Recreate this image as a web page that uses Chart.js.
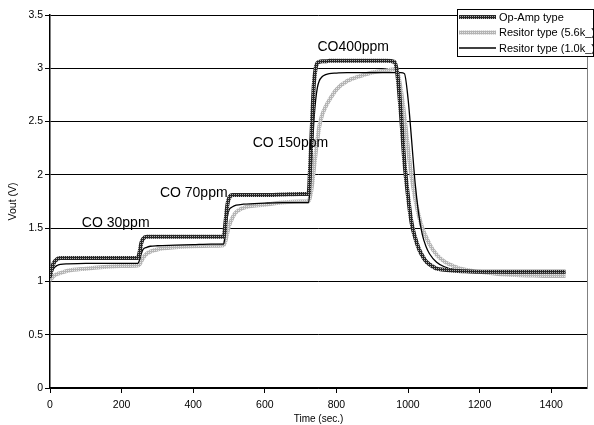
<!DOCTYPE html>
<html>
<head>
<meta charset="utf-8">
<script src="https://cdn.jsdelivr.net/npm/chart.js@4/dist/chart.umd.min.js"></script>
<style>
  html, body { margin: 0; padding: 0; background: #fff; }
  #vout { display: block; }
</style>
</head>
<body>
<canvas id="vout" width="594" height="425"></canvas>
<script>
// sample times (sec.)
const times = [0,5,10,20,30,50,100,150,200,245,
  250,255,260,270,280,300,350,400,450,485,
  490,495,500,510,520,540,600,650,700,722,
  727,732,737,742,747,752,760,770,780,800,
  830,860,900,940,962,970,980,990,1000,1010,
  1020,1030,1040,1050,1060,1080,1100,1130,1160,1200,
  1250,1300,1350,1400,1440];

// Vout (V)
const opAmp = [1.04,1.12,1.17,1.21,1.22,1.22,1.22,1.22,1.22,1.22,
  1.27,1.36,1.40,1.42,1.42,1.42,1.42,1.42,1.42,1.42,
  1.55,1.71,1.78,1.81,1.81,1.81,1.81,1.815,1.82,1.82,
  2.10,2.50,2.85,3.00,3.05,3.06,3.065,3.065,3.07,3.07,
  3.07,3.07,3.07,3.07,3.06,2.95,2.58,2.12,1.80,1.55,
  1.41,1.31,1.24,1.19,1.16,1.12,1.11,1.10,1.095,1.09,
  1.09,1.09,1.09,1.09,1.09];

const res56k = [1.01,1.03,1.05,1.07,1.08,1.10,1.12,1.135,1.145,1.15,
  1.16,1.19,1.22,1.26,1.28,1.30,1.32,1.33,1.335,1.34,
  1.38,1.45,1.52,1.60,1.65,1.69,1.72,1.74,1.75,1.75,
  1.80,1.90,2.05,2.20,2.33,2.45,2.56,2.64,2.70,2.80,
  2.88,2.92,2.96,2.98,2.99,2.97,2.80,2.55,2.25,1.98,
  1.78,1.62,1.50,1.42,1.35,1.25,1.19,1.14,1.11,1.09,
  1.07,1.06,1.055,1.05,1.05];

const res10k = [1.03,1.08,1.12,1.15,1.16,1.165,1.17,1.17,1.17,1.17,
  1.20,1.26,1.30,1.32,1.33,1.335,1.34,1.345,1.35,1.35,
  1.45,1.60,1.67,1.70,1.715,1.725,1.735,1.74,1.74,1.74,
  1.90,2.20,2.50,2.70,2.82,2.88,2.92,2.94,2.95,2.955,
  2.96,2.96,2.96,2.96,2.96,2.96,2.96,2.95,2.72,2.33,
  1.92,1.63,1.44,1.33,1.26,1.18,1.14,1.11,1.10,1.09,
  1.085,1.08,1.08,1.08,1.08];

// gas step labels, placed in data units
const noteText = ['CO 30ppm', 'CO 70ppm', 'CO 150ppm', 'CO400ppm'];
const noteTime = [89, 307, 566, 747];
const noteLevel = [1.55, 1.83, 2.30, 3.20];

const xTicks = [0,200,400,600,800,1000,1200,1400];

Chart.defaults.font.family = "'Liberation Sans', Arial, sans-serif";
Chart.defaults.color = '#000';

// little checker fills to get the Excel-ish patterned lines
function checker(dark, light) {
  const c = document.createElement('canvas');
  c.width = 2; c.height = 2;
  const g = c.getContext('2d');
  g.fillStyle = dark; g.fillRect(0, 0, 2, 2);
  g.fillStyle = light; g.fillRect(0, 0, 1, 1);
  return g.createPattern(c, 'repeat');
}
const ctx = document.getElementById('vout').getContext('2d');
const opAmpFill = checker('#262626', '#b0b0b0');
const res56Fill = checker('#b4b4b4', '#e8e8e8');

const pts = ys => times.map((t, i) => ({x: t, y: ys[i]}));

const frame = {
  id: 'frame',
  beforeDatasetsDraw(chart) {
    const a = chart.chartArea, g = chart.ctx;
    g.save();
    g.strokeStyle = '#808080';
    g.lineWidth = 1;
    g.beginPath();
    g.moveTo(a.right + 0.5, a.top);
    g.lineTo(a.right + 0.5, a.bottom);
    g.stroke();
    g.restore();
  }
};

const notes = {
  id: 'notes',
  afterDatasetsDraw(chart) {
    const g = chart.ctx, xs = chart.scales.x, ys = chart.scales.y;
    g.save();
    g.font = "14px 'Liberation Sans', Arial, sans-serif";
    g.fillStyle = '#000';
    g.textAlign = 'left';
    g.textBaseline = 'middle';
    noteText.forEach((s, i) => {
      g.fillText(s, xs.getPixelForValue(noteTime[i]), ys.getPixelForValue(noteLevel[i]));
    });
    g.restore();
  }
};

// legend sits on top of the plot, so draw it by hand
const keyBox = {
  id: 'keyBox',
  afterDraw(chart) {
    const g = chart.ctx;
    const x0 = 457, y0 = 9, w = 136, h = 47;
    g.save();
    g.fillStyle = '#fff';
    g.fillRect(x0, y0, w, h);
    g.strokeStyle = '#000';
    g.lineWidth = 1;
    g.strokeRect(x0 + 0.5, y0 + 0.5, w, h);
    g.font = "11px 'Liberation Sans', Arial, sans-serif";
    g.textBaseline = 'middle';
    chart.data.datasets.forEach((ds, i) => {
      const y = y0 + 8 + i * 15.5;
      g.strokeStyle = ds.borderColor;
      g.lineWidth = ds.borderWidth;
      g.beginPath();
      g.moveTo(x0 + 2, y);
      g.lineTo(x0 + 39, y);
      g.stroke();
      g.fillStyle = '#000';
      g.fillText(ds.label, x0 + 42, y + 0.5);
    });
    g.restore();
  }
};

new Chart(ctx, {
  type: 'line',
  data: {
    datasets: [
      {label: 'Op-Amp type', data: pts(opAmp), borderColor: opAmpFill, borderWidth: 4, order: 0},
      {label: 'Resitor type (5.6k_)', data: pts(res56k), borderColor: res56Fill, borderWidth: 4, order: 2},
      {label: 'Resitor type (1.0k_)', data: pts(res10k), borderColor: '#000', borderWidth: 1.3, order: 1}
    ]
  },
  options: {
    responsive: false,
    animation: false,
    layout: {padding: {top: 15, right: 7, left: 0, bottom: 0}},
    elements: {
      point: {radius: 0},
      line: {cubicInterpolationMode: 'monotone', fill: false}
    },
    plugins: {legend: {display: false}, tooltip: {enabled: false}},
    scales: {
      x: {
        type: 'linear',
        min: 0, max: 1500,
        afterBuildTicks: ax => { ax.ticks = xTicks.map(v => ({value: v})); },
        afterFit: ax => { ax.height = 37; },
        grid: {drawOnChartArea: false, color: '#000', tickColor: '#000', tickLength: 5},
        border: {color: '#000', width: 1.5},
        ticks: {font: {size: 10.5}, padding: 6, maxRotation: 0, callback: v => String(v)},
        title: {display: true, text: 'Time (sec.)', font: {size: 10}, padding: {top: 0, bottom: 0}}
      },
      y: {
        min: 0, max: 3.5,
        afterFit: ax => { ax.width = 50; },
        grid: {color: '#000', tickColor: '#000', tickLength: 5, lineWidth: 1},
        border: {color: '#000', width: 1.5},
        ticks: {stepSize: 0.5, font: {size: 10.5}, padding: 2, callback: v => String(v)},
        title: {display: true, text: 'Vout (V)', font: {size: 10.5}, padding: {top: 7, bottom: 0}}
      }
    }
  },
  plugins: [frame, notes, keyBox]
});
</script>
</body>
</html>
